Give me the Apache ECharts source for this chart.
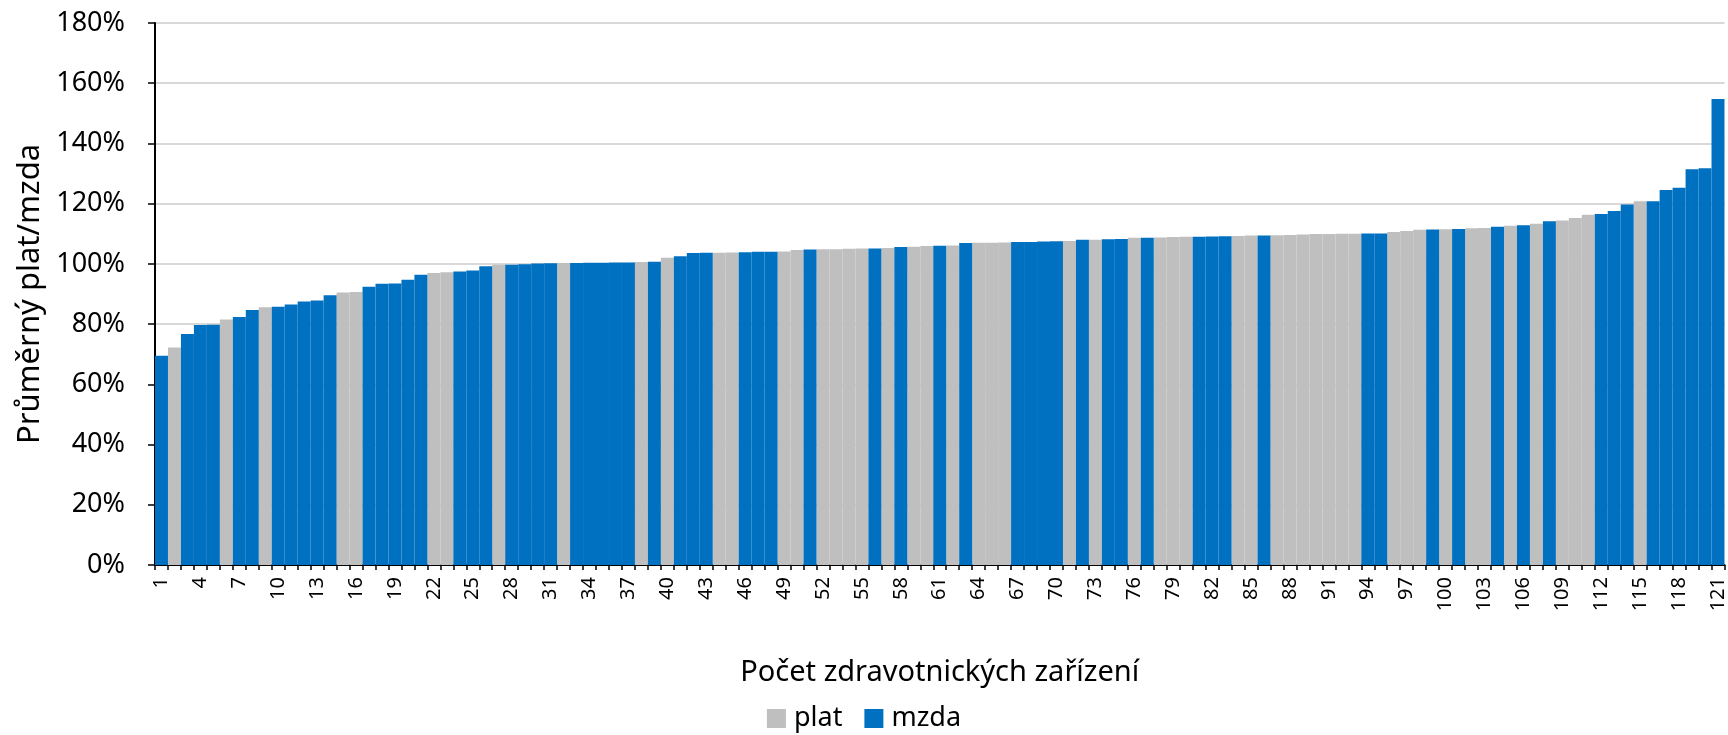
<!DOCTYPE html>
<html>
<head>
<meta charset="utf-8">
<title>Průměrný plat/mzda</title>
<script src="https://cdn.jsdelivr.net/npm/echarts@6/dist/echarts.min.js"></script>
<style>
  html, body { margin: 0; padding: 0; background: #fff; }
  #chart { width: 1728px; height: 735px; }
</style>
</head>
<body>
<div id="chart"></div>
<script>
// poradi zarizeni 1..121
var categories = [];
for (var i = 1; i <= 121; i++) categories.push(String(i));

// hodnota v % pro kazde zarizeni (serazeno)
var values = [
  69.5, 72.2, 76.7, 79.7, 79.8, 81.5, 82.4, 84.7, 85.6, 85.8,
  86.5, 87.5, 87.8, 89.6, 90.5, 90.7, 92.4, 93.4, 93.5, 94.7,
  96.4, 97.0, 97.2, 97.5, 97.8, 99.2, 99.7, 99.7, 99.9, 100.1,
  100.2, 100.3, 100.3, 100.35, 100.4, 100.45, 100.5, 100.6, 100.7, 102.0,
  102.5, 103.6, 103.7, 103.7, 103.8, 103.9, 104.0, 104.0, 104.1, 104.6,
  104.8, 104.9, 104.9, 105.0, 105.1, 105.1, 105.3, 105.6, 105.7, 105.9,
  106.0, 106.1, 106.9, 107.0, 107.0, 107.1, 107.3, 107.3, 107.4, 107.5,
  107.6, 108.0, 108.0, 108.2, 108.3, 108.7, 108.7, 108.8, 108.9, 109.0,
  109.0, 109.1, 109.2, 109.3, 109.4, 109.4, 109.5, 109.6, 109.8, 109.9,
  109.95, 110.0, 110.0, 110.1, 110.1, 110.6, 110.9, 111.3, 111.4, 111.5,
  111.6, 111.8, 111.9, 112.3, 112.7, 112.8, 113.3, 114.2, 114.4, 115.2,
  116.3, 116.6, 117.6, 119.7, 120.8, 120.8, 124.5, 125.3, 131.4, 131.8,
  154.8
];

// P = plat, M = mzda
var types = (
  "MPMMMPMMPM" + "MMMMPPMMMM" + "MPPMMMPMMM" + "MPMMMMMPMP" +
  "MMMPPMMMPP" + "MPPPPMPMPP" + "MPMPPPMMMM" + "PMPMMPMPPP" +
  "MMMPPMPPPP" + "PPPMMPPPMP" + "MPPMPMPMPP" + "PMMMPMMMMM" + "M"
).split("");

var yTicks = [0, 20, 40, 60, 80, 100, 120, 140, 160, 180];

var platData = values.map(function (v, i) { return types[i] === "P" ? v : "-"; });
var mzdaData = values.map(function (v, i) { return types[i] === "M" ? v : "-"; });

var font = "Noto Sans";
var myChart = null;

window.onload = function () {
  myChart = echarts.init(document.getElementById("chart"));
  myChart.setOption({
    animation: false,
    textStyle: { fontFamily: font, color: "#000" },
    color: ["#BFBFBF", "#0070C0"],
    grid: { left: 155, right: 2, top: 23, bottom: 170 },
    legend: {
      top: 705,
      left: "center",
      padding: 0,
      itemWidth: 19,
      itemHeight: 19,
      itemGap: 22,
      icon: "rect",
      textStyle: { fontFamily: font, fontSize: 27, color: "#000", padding: [0, 0, 0, 3] },
      data: ["plat", "mzda"],
    },
    xAxis: {
      type: "category",
      data: categories,
      name: "Počet zdravotnických zařízení",
      nameLocation: "middle",
      nameGap: 93,
      nameTextStyle: { fontFamily: font, fontSize: 29, color: "#000" },
      axisLine: { lineStyle: { color: "#000", width: 2 } },
      axisTick: { show: true, interval: 0, length: 5, lineStyle: { color: "#000", width: 1.5 } },
      axisLabel: {
        interval: 2,
        rotate: 90,
        margin: 12,
        fontFamily: font,
        fontSize: 20,
        color: "#000",
      },
    },
    yAxis: {
      type: "value",
      min: yTicks[0],
      max: yTicks[yTicks.length - 1],
      interval: 20,
      name: "Průměrný plat/mzda",
      nameLocation: "middle",
      nameGap: 108,
      nameTextStyle: { fontFamily: font, fontSize: 31, color: "#000" },
      axisLine: { show: true, lineStyle: { color: "#000", width: 2 } },
      axisTick: { show: true, length: 7, lineStyle: { color: "#000", width: 1.5 } },
      axisLabel: {
        margin: 30,
        fontFamily: font,
        fontSize: 27,
        color: "#000",
        formatter: "{value}%",
      },
      splitLine: { lineStyle: { color: "#D9D9D9", width: 2 } },
    },
    series: [
      {
        name: "plat",
        type: "bar",
        data: platData,
        barGap: "-100%",
        barCategoryGap: 0,
        itemStyle: { color: "#BFBFBF" },
      },
      {
        name: "mzda",
        type: "bar",
        data: mzdaData,
        barGap: "-100%",
        barCategoryGap: 0,
        itemStyle: { color: "#0070C0" },
      },
    ],
  });
};
</script>
</body>
</html>
